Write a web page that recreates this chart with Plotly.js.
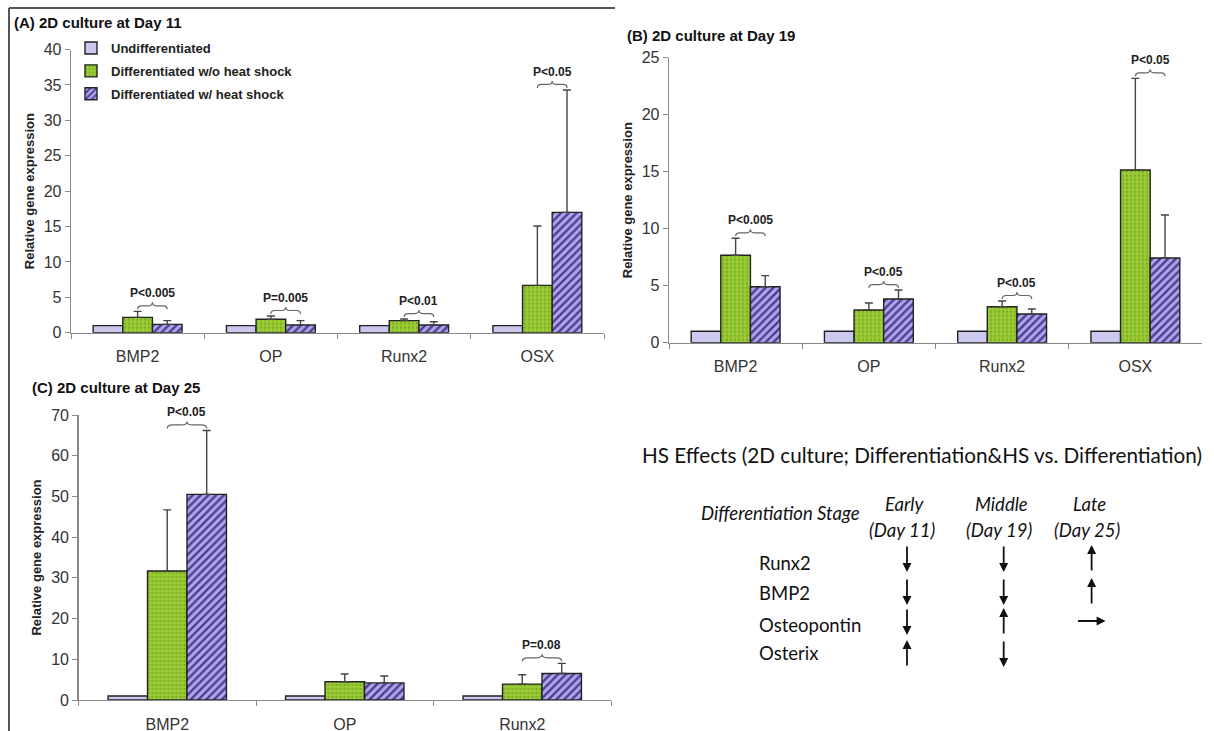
<!DOCTYPE html>
<html>
<head>
<meta charset="utf-8">
<script src="https://cdn.plot.ly/plotly-3.0.1.min.js"></script>
<style>
  html, body { margin: 0; padding: 0; background: #fff; }
  #chart { width: 1214px; height: 731px; }
</style>
</head>
<body>
<div id="chart"></div>
<script>
// ---- Data -------------------------------------------------------------
const seriesNames = ['Undifferentiated', 'Differentiated w/o heat shock', 'Differentiated w/ heat shock'];

// (A) Day 11
const day11Genes = ['BMP2', 'OP', 'Runx2', 'OSX'];
const day11Undiff = [1, 1, 1, 1];
const day11NoHS = [2.17, 1.89, 1.70, 6.69];
const day11NoHSErr = [0.85, 0.47, 0.23, 8.38];
const day11HS = [1.18, 1.09, 1.09, 17.0];
const day11HSErr = [0.52, 0.61, 0.46, 17.3];
const day11P = ['P<0.005', 'P=0.005', 'P<0.01', 'P<0.05'];

// (B) Day 19
const day19Genes = ['BMP2', 'OP', 'Runx2', 'OSX'];
const day19Undiff = [1, 1, 1, 1];
const day19NoHS = [7.67, 2.87, 3.16, 15.15];
const day19NoHSErr = [1.49, 0.61, 0.50, 8.04];
const day19HS = [4.91, 3.83, 2.52, 7.43];
const day19HSErr = [0.97, 0.79, 0.44, 3.77];
const day19P = ['P<0.005', 'P<0.05', 'P<0.05', 'P<0.05'];

// (C) Day 25
const day25Genes = ['BMP2', 'OP', 'Runx2'];
const day25Undiff = [1, 1, 1];
const day25NoHS = [31.7, 4.5, 3.9];
const day25NoHSErr = [15.0, 1.9, 2.3];
const day25HS = [50.5, 4.2, 6.5];
const day25HSErr = [15.7, 1.7, 2.5];
const day25P = ['P<0.05', '', 'P=0.08'];

// Summary of heat-shock effects
const hsTitle = 'HS Effects (2D culture; Differentiation&HS vs. Differentiation)';
const hsStageLabel = 'Differentiation Stage';
const hsStages = ['Early', 'Middle', 'Late'];
const hsDays = ['(Day 11)', '(Day 19)', '(Day 25)'];
const hsGenes = ['Runx2', 'BMP2', 'Osteopontin', 'Osterix'];
const hsEffects = [
  ['down', 'down', 'up'],
  ['down', 'down', 'up'],
  ['down', 'up', 'flat'],
  ['up', 'down', '']
];

// ---- Layout helpers ----------------------------------------------------
const W = 1214, H = 731;
const fx = p => p / W;          // pixel column -> paper x
const fy = p => 1 - p / H;      // pixel row -> paper y

const ARIAL = '"Liberation Sans", Arial, sans-serif';
const HUMAN = 'Lato, "Open Sans", sans-serif';
const BARGAP = 0.333;
const barW = (1 - BARGAP) / 3;

const undiffColor = '#cbc8f0';
const greenColor = '#99cc33';
const purpleColor = '#a99de2';

const panels = [
  { id: '', title: '(A) 2D culture at Day 11', genes: day11Genes, undiff: day11Undiff,
    noHS: day11NoHS, noHSErr: day11NoHSErr, hs: day11HS, hsErr: day11HSErr, p: day11P,
    xdom: [71, 604], ydom: [332.7, 49.6], yrange: [0, 40], dtick: 5, legend: true,
    titlePos: [12, 23] },
  { id: '2', title: '(B) 2D culture at Day 19', genes: day19Genes, undiff: day19Undiff,
    noHS: day19NoHS, noHSErr: day19NoHSErr, hs: day19HS, hsErr: day19HSErr, p: day19P,
    xdom: [669, 1202], ydom: [342.7, 57.7], yrange: [0, 25], dtick: 5, legend: false,
    titlePos: [625, 35] },
  { id: '3', title: '(C) 2D culture at Day 25', genes: day25Genes, undiff: day25Undiff,
    noHS: day25NoHS, noHSErr: day25NoHSErr, hs: day25HS, hsErr: day25HSErr, p: day25P,
    xdom: [78.5, 611], ydom: [700, 415], yrange: [0, 70], dtick: 10, legend: false,
    titlePos: [30, 387] }
];

const traces = [];
const layout = {
  width: W, height: H,
  margin: { l: 0, r: 0, t: 0, b: 0 },
  paper_bgcolor: '#fff',
  plot_bgcolor: 'rgba(0,0,0,0)',
  barmode: 'group',
  bargap: BARGAP,
  bargroupgap: 0,
  showlegend: true,
  legend: {
    x: fx(71), y: fy(33), xanchor: 'left', yanchor: 'top',
    bgcolor: 'rgba(0,0,0,0)',
    font: { family: ARIAL, size: 13, weight: 'bold', color: '#222' },
    tracegroupgap: 3, itemwidth: 30
  },
  annotations: [],
  shapes: []
};

const barLine = { color: '#222', width: 1.4 };
const errStyle = c => ({ type: 'data', symmetric: false, array: c, arrayminus: c.map(() => 0),
  color: '#444', thickness: 1.4, width: 4, visible: true });

panels.forEach(pn => {
  const xa = 'x' + pn.id, ya = 'y' + pn.id;
  traces.push({
    type: 'bar', name: seriesNames[0], x: pn.genes, y: pn.undiff, xaxis: xa, yaxis: ya,
    legendgroup: 'g0', showlegend: pn.legend,
    marker: { color: undiffColor, line: barLine }, hoverinfo: 'y'
  });
  traces.push({
    type: 'bar', name: seriesNames[1], x: pn.genes, y: pn.noHS, xaxis: xa, yaxis: ya,
    legendgroup: 'g1', showlegend: pn.legend,
    error_y: errStyle(pn.noHSErr),
    marker: { color: greenColor, line: barLine,
      pattern: { shape: '.', bgcolor: greenColor, fgcolor: '#7ea82a', size: 4, solidity: 0.25 } },
    hoverinfo: 'y'
  });
  traces.push({
    type: 'bar', name: seriesNames[2], x: pn.genes, y: pn.hs, xaxis: xa, yaxis: ya,
    legendgroup: 'g2', showlegend: pn.legend,
    error_y: errStyle(pn.hsErr),
    marker: { color: purpleColor, line: barLine,
      pattern: { shape: '/', bgcolor: '#b0a5e6', fgcolor: '#4a3c96', size: 5.5, solidity: 0.42 } },
    hoverinfo: 'y'
  });

  const xkey = 'xaxis' + pn.id, ykey = 'yaxis' + pn.id;
  layout[xkey] = {
    domain: [fx(pn.xdom[0]), fx(pn.xdom[1])],
    anchor: ya, type: 'category', range: [-0.5, pn.genes.length - 0.5],
    showline: true, linecolor: '#8a8a8a', linewidth: 1.3,
    ticks: 'outside', tickson: 'boundaries', ticklen: 5, tickcolor: '#8a8a8a',
    ticklabelstandoff: 9,
    tickfont: { family: ARIAL, size: 16, color: '#333' },
    showgrid: false, zeroline: false, fixedrange: true
  };
  layout[ykey] = {
    domain: [fy(pn.ydom[0]), fy(pn.ydom[1])],
    anchor: xa, range: pn.yrange, dtick: pn.dtick, tick0: 0,
    showline: true, linecolor: '#8a8a8a', linewidth: 1.3,
    ticks: 'outside', ticklen: 5, tickcolor: '#8a8a8a',
    tickfont: { family: ARIAL, size: 16, color: '#333' },
    showgrid: false, zeroline: false, fixedrange: true,
    title: { text: 'Relative gene expression', standoff: 6,
      font: { family: ARIAL, size: 13, weight: 'bold', color: '#222' } }
  };

  // panel heading
  layout.annotations.push({
    xref: 'paper', yref: 'paper', x: fx(pn.titlePos[0]), y: fy(pn.titlePos[1]),
    xanchor: 'left', yanchor: 'middle', showarrow: false, text: pn.title,
    font: { family: ARIAL, size: 15, weight: 'bold', color: '#111' }
  });

  // significance braces over the two differentiated bars
  pn.p.forEach((txt, i) => {
    if (!txt) return;
    const top = Math.max(pn.noHS[i] + pn.noHSErr[i], pn.hs[i] + pn.hsErr[i]);
    const xl = i, xr = i + barW, xm = (xl + xr) / 2, d = 0.03;
    layout.shapes.push({
      type: 'path', xref: xa, yref: ya, ysizemode: 'pixel', yanchor: top,
      path: `M${xl},2 Q${xl},5.5 ${xl + d},5.5 L${xm - d},5.5 Q${xm},5.5 ${xm},9 ` +
            `Q${xm},5.5 ${xm + d},5.5 L${xr - d},5.5 Q${xr},5.5 ${xr},2`,
      line: { color: '#666', width: 1.2 }
    });
    layout.annotations.push({
      xref: xa, yref: ya, x: xm, y: top, yshift: 18, showarrow: false,
      xanchor: 'center', yanchor: 'middle', text: txt,
      font: { family: ARIAL, size: 12, weight: 'bold', color: '#222' }
    });
  });
});

// ---- Summary table -------------------------------------------------------
const colX = [907, 1003.7, 1091.6];
const rowTop = [545, 578, 608, 640];
const rowLabelY = [563, 593, 625, 653];
const arrowLen = 27;

layout.annotations.push({
  xref: 'paper', yref: 'paper', x: fx(640), y: fy(455), xanchor: 'left', yanchor: 'middle',
  showarrow: false, text: hsTitle, font: { family: HUMAN, size: 20.7, color: '#111' }
});
layout.annotations.push({
  xref: 'paper', yref: 'paper', x: fx(862), y: fy(513), xanchor: 'right', yanchor: 'middle',
  showarrow: false, text: '<i>' + hsStageLabel + '</i>', font: { family: HUMAN, size: 18.5, color: '#111' }
});
hsStages.forEach((s, j) => {
  layout.annotations.push({
    xref: 'paper', yref: 'paper', x: fx(colX[j] - 2), y: fy(504), xanchor: 'center', yanchor: 'middle',
    showarrow: false, text: '<i>' + s + '</i>', font: { family: HUMAN, size: 18.5, color: '#111' }
  });
  layout.annotations.push({
    xref: 'paper', yref: 'paper', x: fx(colX[j] - 5), y: fy(530), xanchor: 'center', yanchor: 'middle',
    showarrow: false, text: '<i>' + hsDays[j] + '</i>', font: { family: HUMAN, size: 18.5, color: '#111' }
  });
});
hsGenes.forEach((g, i) => {
  layout.annotations.push({
    xref: 'paper', yref: 'paper', x: fx(757), y: fy(rowLabelY[i]), xanchor: 'left', yanchor: 'middle',
    showarrow: false, text: g, font: { family: HUMAN, size: 18.5, color: '#111' }
  });
  hsEffects[i].forEach((eff, j) => {
    if (!eff) return;
    const a = {
      xref: 'paper', yref: 'paper', text: '', showarrow: true,
      arrowhead: 2, arrowsize: 1, arrowwidth: 1.8, arrowcolor: '#111', axref: 'pixel', ayref: 'pixel'
    };
    if (eff === 'down') { a.x = fx(colX[j]); a.y = fy(rowTop[i] + arrowLen); a.ax = 0; a.ay = -arrowLen; }
    else if (eff === 'up') { a.x = fx(colX[j]); a.y = fy(rowTop[i]); a.ax = 0; a.ay = arrowLen; }
    else { a.x = fx(colX[j] + 14); a.y = fy(rowLabelY[i] - 4); a.ax = -29; a.ay = 0; }
    layout.annotations.push(a);
  });
});

// ---- Frame lines ------------------------------------------------------------
layout.shapes.push(
  { type: 'line', xref: 'paper', yref: 'paper', x0: fx(9), x1: fx(9), y0: fy(8), y1: 0,
    line: { color: '#555', width: 2 } },
  { type: 'line', xref: 'paper', yref: 'paper', x0: fx(9), x1: fx(615), y0: fy(8), y1: fy(8),
    line: { color: '#555', width: 2 } }
);

Plotly.newPlot('chart', traces, layout, { displayModeBar: false, staticPlot: true });
</script>
</body>
</html>
